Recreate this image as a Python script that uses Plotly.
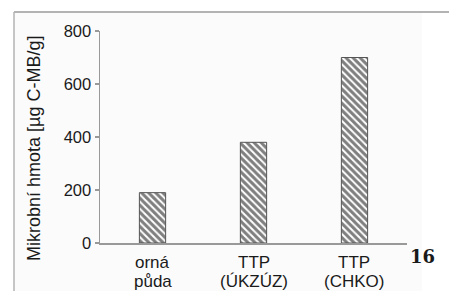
import plotly.graph_objects as go

categories = ["orná půda", "TTP (ÚKZÚZ)", "TTP (CHKO)"]
values = [190, 380, 700]
label_line1 = ["orná", "TTP", "TTP"]
label_line2 = ["půda", "(ÚKZÚZ)", "(CHKO)"]
y_ticks = [0, 200, 400, 600, 800]
y_title = "Mikrobní hmota [µg C-MB/g]"
figure_number = "16"

W, H = 449, 291
L, R, T, B = 100, 42, 31, 48
pw, ph = W - L - R, H - T - B

def px_x(p):
    return (p - L) / pw

def px_y(p):
    return (H - B - p) / ph

fig = go.Figure()
fig.add_trace(go.Bar(
    x=categories, y=values, width=0.26,
    marker=dict(color="white",
                line=dict(color="#555555", width=1),
                pattern=dict(shape="\\", size=5, solidity=0.6,
                             fgcolor="#000000", bgcolor="white")),
    showlegend=False,
))

font = "Liberation Sans, Arial, sans-serif"
fig.update_layout(
    width=W, height=H,
    margin=dict(l=L, r=R, t=T, b=B, pad=0),
    paper_bgcolor="white", plot_bgcolor="rgba(0,0,0,0)",
    font=dict(family=font, size=16, color="#1a1a1a"),
    xaxis=dict(range=[-0.52, 2.52], showticklabels=False, ticks="",
               showline=True, linecolor="#999999", linewidth=1.5,
               showgrid=False, zeroline=False, fixedrange=True),
    yaxis=dict(range=[0, 800], tickvals=y_ticks, ticks="outside",
               ticklen=4, tickcolor="#999999", tickwidth=1.2,
               showline=True, linecolor="#999999", linewidth=1.5,
               showgrid=False, zeroline=False,
               tickfont=dict(size=16.5, color="#1a1a1a"), fixedrange=True),
)

# page background panel and frame
fig.add_shape(type="rect", xref="paper", yref="paper", layer="below",
              x0=px_x(14), x1=px_x(422), y0=px_y(291), y1=px_y(12),
              fillcolor="#fbfbfb", line=dict(width=0))
fig.add_shape(type="line", xref="paper", yref="paper",
              x0=px_x(14), x1=px_x(449), y0=px_y(12), y1=px_y(12),
              line=dict(color="#b3b3b3", width=2))
fig.add_shape(type="line", xref="paper", yref="paper",
              x0=px_x(14), x1=px_x(14), y0=px_y(12), y1=px_y(291),
              line=dict(color="#b3b3b3", width=1.5))

# category labels (two lines)
for c, l1, l2 in zip(categories, label_line1, label_line2):
    fig.add_annotation(x=c, xref="x", yref="paper", y=px_y(262), text=l1,
                       showarrow=False, yanchor="middle",
                       font=dict(size=17, family=font, color="#1a1a1a"))
    fig.add_annotation(x=c, xref="x", yref="paper", y=px_y(281.5), text=l2,
                       showarrow=False, yanchor="middle",
                       font=dict(size=17, family=font, color="#1a1a1a"))

fig.add_annotation(x=px_x(34), y=px_y(149), xref="paper", yref="paper",
                   text=y_title, textangle=-90, showarrow=False,
                   xanchor="center", yanchor="middle",
                   font=dict(size=18, family=font, color="#1a1a1a"))

fig.add_annotation(x=px_x(422.5), y=px_y(256.5), xref="paper", yref="paper",
                   text="<b>" + figure_number + "</b>", showarrow=False,
                   xanchor="center", yanchor="middle",
                   font=dict(size=18, family="DejaVu Serif, serif", color="#1a1a1a"))

fig.write_html("out.html",
               config={"displayModeBar": False, "staticPlot": True},
               post_script="document.body.style.margin='0';document.body.style.overflow='hidden';")
